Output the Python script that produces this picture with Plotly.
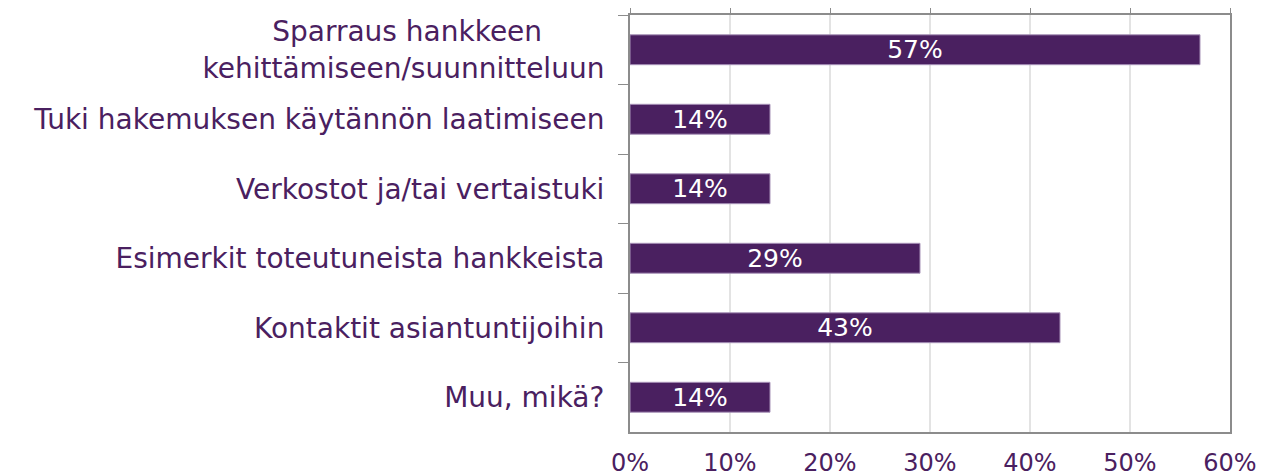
import plotly.graph_objects as go

categories = [
    "Sparraus hankkeen" + "\u00a0" * 7 + "<br>kehittämiseen/suunnitteluun",
    "Tuki hakemuksen käytännön laatimiseen",
    "Verkostot ja/tai vertaistuki",
    "Esimerkit toteutuneista hankkeista",
    "Kontaktit asiantuntijoihin",
    "Muu, mikä?",
]
values = [57, 14, 14, 29, 43, 14]
value_labels = ["57%", "14%", "14%", "29%", "43%", "14%"]
x_ticks = [0, 10, 20, 30, 40, 50, 60]
x_tick_labels = ["0%", "10%", "20%", "30%", "40%", "50%", "60%"]

PURPLE = "#4a2060"
GRAY = "#8c8c8c"
FONT = "DejaVu Sans"

fig = go.Figure()
fig.add_trace(go.Bar(
    y=categories, x=values, orientation="h",
    marker=dict(color=PURPLE, line=dict(color="#a893b8", width=1)),
    text=value_labels, textposition="inside", insidetextanchor="middle",
    constraintext="none",
    textfont=dict(color="white", size=25, family=FONT),
    hoverinfo="skip",
))
fig.add_trace(go.Scatter(x=[0], y=[categories[0]], xaxis="x2", mode="markers",
                         marker=dict(opacity=0), showlegend=False, hoverinfo="skip"))

# page body has an 8px default margin, so shift margins accordingly
fig.update_layout(
    width=1281, height=475,
    margin=dict(l=622, r=59, t=7, b=51, autoexpand=False),
    paper_bgcolor="white", plot_bgcolor="white",
    showlegend=False, bargap=0.57,
    font=dict(family=FONT, color=PURPLE, size=24),
    xaxis=dict(
        range=[0, 60], tickvals=x_ticks, ticktext=x_tick_labels,
        showgrid=True, gridcolor="#e3e3e3", gridwidth=2,
        showline=True, linecolor=GRAY, linewidth=2, mirror=True,
        ticks="outside", ticklen=8, tickcolor="rgba(0,0,0,0)",
        tickfont=dict(size=24, color=PURPLE, family=FONT),
        zeroline=False, fixedrange=True, automargin=False,
    ),
    xaxis2=dict(
        range=[0, 60], tickvals=x_ticks, overlaying="x", side="top", anchor="y",
        showticklabels=False, showgrid=False, showline=False, zeroline=False,
        ticks="outside", ticklen=8, tickcolor=GRAY, tickwidth=1, automargin=False,
    ),
    yaxis=dict(
        autorange="reversed", type="category",
        showline=True, linecolor=GRAY, linewidth=2, mirror=True,
        ticks="outside", tickson="boundaries", ticklen=10, tickcolor=GRAY, tickwidth=1,
        tickfont=dict(size=28, color=PURPLE, family=FONT),
        ticklabelstandoff=18, automargin=False,
        showgrid=False, zeroline=False,
    ),
)

fig.write_html("out.html")
